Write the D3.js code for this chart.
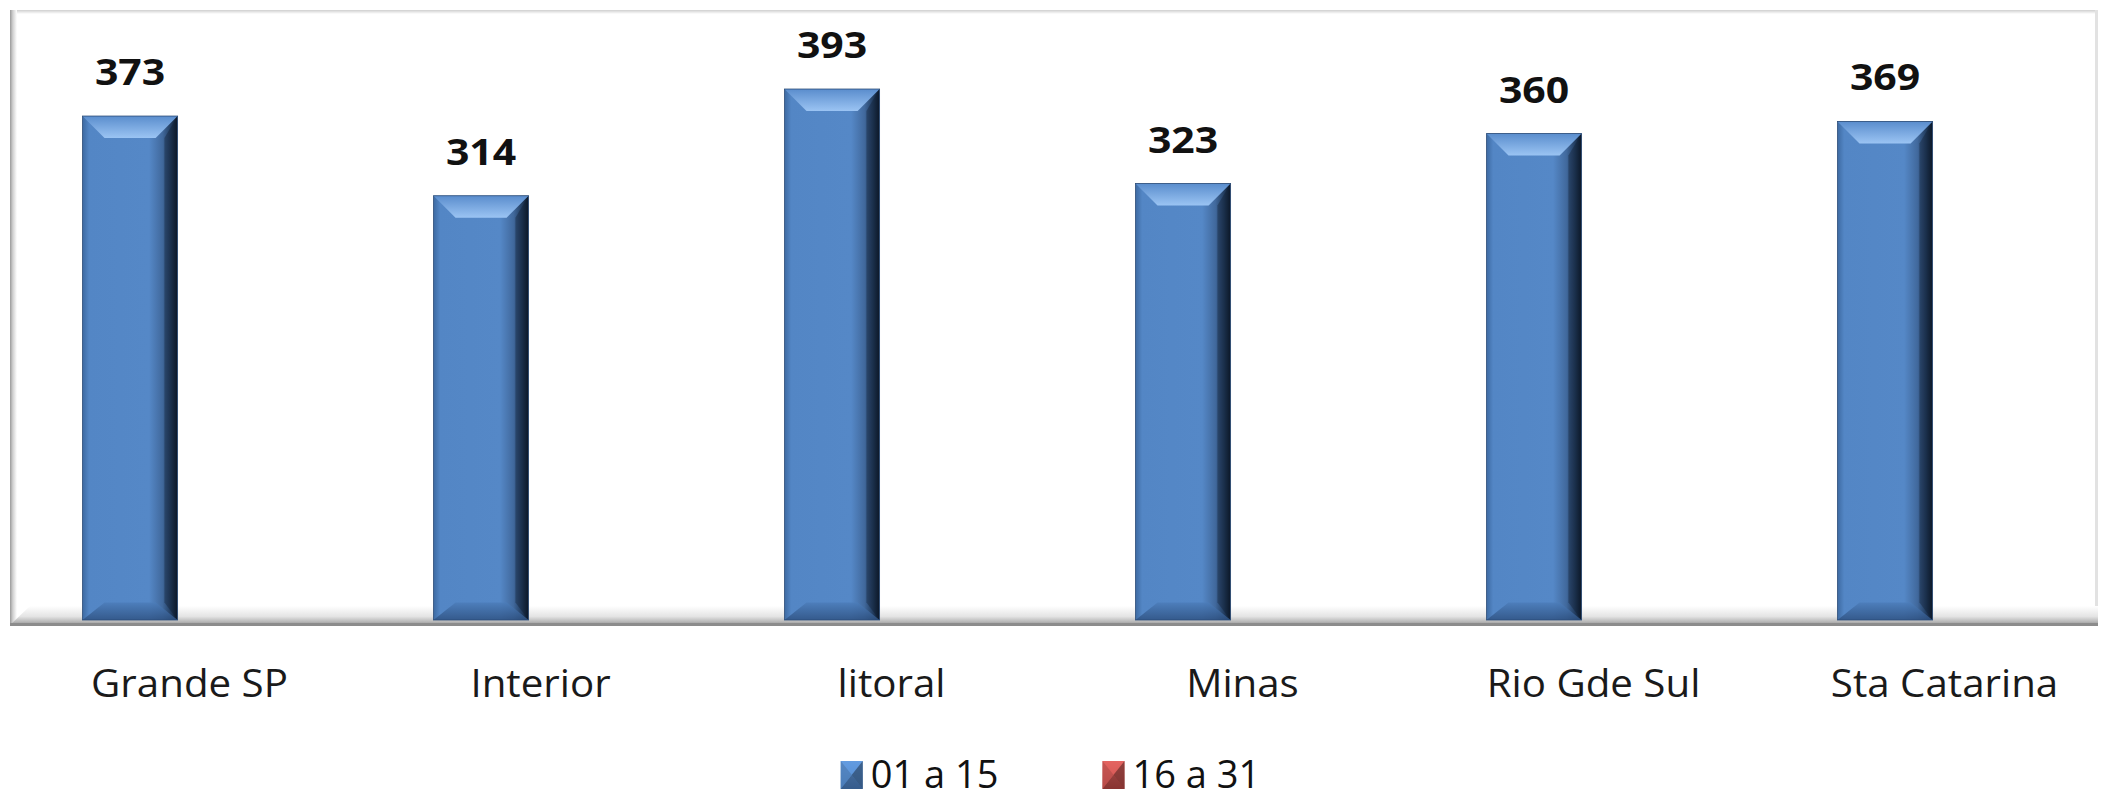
<!DOCTYPE html>
<html>
<head>
<meta charset="utf-8">
<script src="https://cdn.jsdelivr.net/npm/d3@7"></script>
<style>
  html, body { margin: 0; padding: 0; background: #ffffff; }
  svg { display: block; }
  text { font-family: "Open Sans", "Noto Sans", sans-serif; }
</style>
</head>
<body>
<script>
// Regions and their counts for each half of the month
const categories = ["Grande SP", "Interior", "litoral", "Minas", "Rio Gde Sul", "Sta Catarina"];
const seriesNames = ["01 a 15", "16 a 31"];
const firstHalf = [373, 314, 393, 323, 360, 369];
const secondHalf = [null, null, null, null, null, null];
const seriesColors = ["#4f81bd", "#c0504d"];

const W = 2101, H = 799;
const plot = { left: 12, right: 2098, top: 12, floor: 620, base: 625 };

const svg = d3.select("body").append("svg")
  .attr("width", W).attr("height", H);

const defs = svg.append("defs");

function linGrad(id, x2, y2, stops) {
  const g = defs.append("linearGradient").attr("id", id)
    .attr("x1", 0).attr("y1", 0).attr("x2", x2).attr("y2", y2);
  stops.forEach(([o, c]) => g.append("stop").attr("offset", o).attr("stop-color", c));
}
// bar shading
linGrad("barFace", 1, 0, [[0, "#3d6aa2"], [0.07, "#5386c5"], [0.7, "#5588c7"], [0.84, "#41699d"], [0.93, "#223c5e"], [1, "#0b1626"]]);
linGrad("barTop", 0, 1, [[0, "#5a8dcd"], [1, "#9bc4f3"]]);
linGrad("barBottom", 0, 1, [[0, "#4c7dba"], [1, "#2f5282"]]);
// walls and floor
linGrad("floorGrad", 0, 1, [[0, "#ffffff"], [0.55, "#e4e4e4"], [0.85, "#b4b4b4"], [1, "#8a8a8a"]]);
linGrad("wallLeft", 1, 0, [[0, "#9a9a9a"], [0.4, "#d0d0d0"], [1, "#ffffff"]]);
linGrad("wallTop", 0, 1, [[0, "#cfcfcf"], [1, "#ffffff"]]);
// legend keys
linGrad("keyBlue", 0, 1, [[0, "#6e9fdb"], [1, "#3b6aa5"]]);
linGrad("keyRed", 0, 1, [[0, "#e0706c"], [1, "#9a3532"]]);

// Scales
const x = d3.scaleBand().domain(categories).range([14, 2120]);
const xs = d3.scaleBand().domain(seriesNames)
  .range([68.5, x.bandwidth() - 68.5]).paddingInner(0.2);
const y = d3.scaleLinear().domain([0, 450]).range([plot.floor, plot.top]);

// Back wall top edge and side walls
svg.append("rect").attr("x", plot.left).attr("y", plot.top - 2)
  .attr("width", plot.right - plot.left).attr("height", 4).attr("fill", "url(#wallTop)");
svg.append("rect").attr("x", plot.left - 2).attr("y", plot.top - 2)
  .attr("width", 7).attr("height", plot.base - plot.top + 2).attr("fill", "url(#wallLeft)");
svg.append("rect").attr("x", plot.right - 3).attr("y", plot.top - 2)
  .attr("width", 3).attr("height", plot.base - plot.top).attr("fill", "#e2e2e2");

// Floor with a bevelled front edge
svg.append("path")
  .attr("d", `M${plot.left - 2},${plot.base} L${plot.left + 18},${plot.floor - 14} L${plot.right},${plot.floor - 14} L${plot.right},${plot.base} Z`)
  .attr("fill", "url(#floorGrad)");
svg.append("rect").attr("x", plot.left - 2).attr("y", plot.base - 2)
  .attr("width", plot.right - plot.left + 2).attr("height", 3).attr("fill", "#8c8c8c");

// Bars
const bevel = 22;
const data = [];
categories.forEach((c, i) => {
  [firstHalf[i], secondHalf[i]].forEach((v, s) => {
    if (v != null) data.push({ cat: c, series: seriesNames[s], value: v });
  });
});

const bars = svg.append("g").selectAll("g.bar").data(data).join("g").attr("class", "bar");
bars.each(function (d) {
  const g = d3.select(this);
  const x0 = x(d.cat) + xs(d.series);
  const x1 = x0 + xs.bandwidth();
  const y0 = y(d.value);
  const y1 = y(0);
  g.append("rect").attr("x", x0).attr("y", y0).attr("width", x1 - x0).attr("height", y1 - y0)
    .attr("fill", "url(#barFace)");
  g.append("path")
    .attr("d", `M${x0},${y0} L${x1},${y0} L${x1 - bevel},${y0 + bevel} L${x0 + bevel},${y0 + bevel} Z`)
    .attr("fill", "url(#barTop)");
  g.append("path")
    .attr("d", `M${x0 + bevel},${y1 - bevel * 0.8} L${x1 - bevel},${y1 - bevel * 0.8} L${x1},${y1} L${x0},${y1} Z`)
    .attr("fill", "url(#barBottom)").attr("opacity", 0.85);
  g.append("path")
    .attr("d", `M${x1},${y0} L${x1 - bevel * 0.6},${y0 + bevel} L${x1 - bevel * 0.6},${y1 - bevel * 0.8} L${x1},${y1} Z`)
    .attr("fill", "#0d1a2b").attr("opacity", 0.35);
  g.append("rect").attr("x", x0).attr("y", y0).attr("width", x1 - x0).attr("height", y1 - y0)
    .attr("fill", "none").attr("stroke", "#2c4d78").attr("stroke-width", 0.8);

  // value label
  g.append("text")
    .attr("transform", `translate(${(x0 + x1) / 2},${y0 - 31}) scale(1.17,1)`)
    .attr("text-anchor", "middle")
    .attr("font-size", 35).attr("font-weight", 700).attr("fill", "#111")
    .text(d.value);
});

// Category labels
svg.append("g").selectAll("text").data(categories).join("text")
  .attr("transform", d => `translate(${x(d) + x.bandwidth() / 2},697) scale(1.06,1)`)
  .attr("text-anchor", "middle")
  .attr("font-size", 38).attr("fill", "#1a1a1a")
  .text(d => d);

// Legend, centred under the plot
const keyW = 22, keyH = 28, keyGap = 8, itemGap = 104;
const legend = svg.append("g");
const items = legend.selectAll("g").data(seriesNames).join("g");
items.each(function (d, i) {
  const g = d3.select(this);
  const w = keyW, h = keyH, cx = w / 2, cy = h / 2;
  const base = seriesColors[i];
  const dark = d3.color(base).darker(1.2);
  const light = d3.color(base).brighter(0.5);
  g.append("rect").attr("width", w).attr("height", h).attr("fill", i === 0 ? "url(#keyBlue)" : "url(#keyRed)");
  g.append("path").attr("d", `M0,0 L${w},0 L${cx},${cy} Z`).attr("fill", light).attr("opacity", 0.7);
  g.append("path").attr("d", `M${w},0 L${w},${h} L${cx},${cy} Z`).attr("fill", dark).attr("opacity", 0.8);
  g.append("path").attr("d", `M0,${h} L${w},${h} L${cx},${cy} Z`).attr("fill", dark).attr("opacity", 0.6);
  g.append("path").attr("d", `M0,0 L0,${h} L${cx},${cy} Z`).attr("fill", base).attr("opacity", 0.8);
  g.append("text")
    .attr("x", w + keyGap).attr("y", h - 1)
    .attr("font-size", 38).attr("fill", "#111")
    .text(d);
});
// lay the items out left to right, then centre the whole row
let cursor = 0;
items.each(function () {
  const g = d3.select(this);
  g.attr("transform", `translate(${cursor},0)`);
  cursor += this.getBBox().width + itemGap;
});
const legendWidth = cursor - itemGap;
legend.attr("transform", `translate(${(W - legendWidth) / 2},761)`);
</script>
</body>
</html>
